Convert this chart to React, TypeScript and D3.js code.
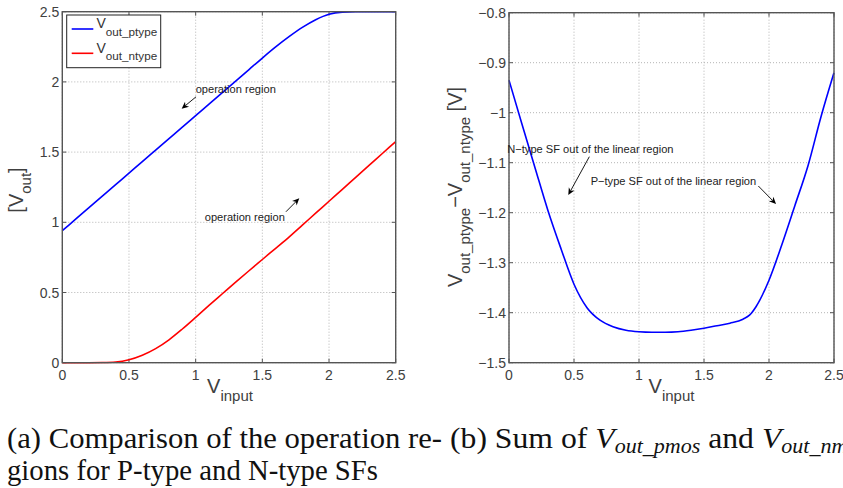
import React from "react";
import * as d3 from "d3";

// ---------- data ----------
const xInput = [0, 0.1, 0.2, 0.3, 0.4, 0.5, 0.6, 0.7, 0.8, 0.9, 1.0, 1.1, 1.2, 1.3, 1.4, 1.5, 1.6, 1.7, 1.8, 1.9, 2.0, 2.1, 2.2, 2.3, 2.4, 2.5];
const vOutPtype = [0.94, 1.022, 1.104, 1.186, 1.268, 1.35, 1.432, 1.514, 1.596, 1.678, 1.76, 1.842, 1.924, 2.006, 2.088, 2.17, 2.249, 2.322, 2.388, 2.443, 2.482, 2.497, 2.5, 2.5, 2.5, 2.5];
const vOutNtype = [0, 0, 0, 0.001, 0.005, 0.021, 0.053, 0.1, 0.163, 0.24, 0.323, 0.408, 0.491, 0.574, 0.655, 0.735, 0.815, 0.895, 0.98, 1.065, 1.15, 1.235, 1.32, 1.405, 1.49, 1.575];

const xDiff = [0, 0.1, 0.2, 0.3, 0.4, 0.5, 0.6, 0.7, 0.8, 0.9, 1.0, 1.1, 1.2, 1.3, 1.4, 1.5, 1.6, 1.7, 1.8, 1.85, 1.9, 2.0, 2.1, 2.2, 2.3, 2.4, 2.5];
const vDiff = [-0.935, -1.023, -1.11, -1.196, -1.272, -1.343, -1.39, -1.415, -1.428, -1.435, -1.438, -1.439, -1.439, -1.438, -1.435, -1.431, -1.426, -1.421, -1.413, -1.405, -1.388, -1.335, -1.263, -1.185, -1.106, -1.008, -0.92];

const xTicks = [0, 0.5, 1, 1.5, 2, 2.5];
const xTickLabels = ["0", "0.5", "1", "1.5", "2", "2.5"];
const yTicksLeft = [0, 0.5, 1, 1.5, 2, 2.5];
const yTickLabelsLeft = ["0", "0.5", "1", "1.5", "2", "2.5"];
const yTicksRight = [-1.5, -1.4, -1.3, -1.2, -1.1, -1.0, -0.9, -0.8];
const yTickLabelsRight = ["\u22121.5", "\u22121.4", "\u22121.3", "\u22121.2", "\u22121.1", "\u22121", "\u22120.9", "\u22120.8"];

const legendNames = ["out_ptype", "out_ntype"];
const legendColors = ["#0000ff", "#ff0000"];

const leftNotes = [
  { text: "operation region", tx: 1.0, ty: 1.92, from: [1.003, 1.894], to: [0.895, 1.809] },
  { text: "operation region", tx: 1.068, ty: 1.006, from: [1.677, 1.075], to: [1.777, 1.171] },
];
const rightNotes = [
  { text: "N\u2212type SF out of the linear region", tx: -0.013, ty: -1.0806, from: [0.618, -1.088], to: [0.456, -1.1646] },
  { text: "P\u2212type SF out of the linear region", tx: 0.628, ty: -1.1436, from: [1.918, -1.1466], to: [2.054, -1.1826] },
];

// ---------- layout ----------
const W = 843;
const H = 488;
const FONT = "'Liberation Sans', Arial, Helvetica, sans-serif";
const AXC = "#555555";
const TXC = "#404040";

const xL = d3.scaleLinear().domain([0, 2.5]).range([62.3, 395.7]);
const yL = d3.scaleLinear().domain([0, 2.5]).range([362.7, 11.7]);
const xR = d3.scaleLinear().domain([0, 2.5]).range([509, 834]);
const yR = d3.scaleLinear().domain([-1.5, -0.8]).range([362.7, 12.7]);

function Axes({ xs, ys, xt, xl, yt, yl }: any) {
  const [x0, x1] = xs.range();
  const [y0, y1] = ys.range();
  const tl = 4;
  return (
    <g fontFamily={FONT}>
      {xt.map((t: number, i: number) => (
        <line key={"gx" + i} x1={xs(t)} x2={xs(t)} y1={y0} y2={y1} stroke="#b4b4b4" strokeWidth={1} strokeDasharray="1,2" />
      ))}
      {yt.map((t: number, i: number) => (
        <line key={"gy" + i} x1={x0} x2={x1} y1={ys(t)} y2={ys(t)} stroke="#b4b4b4" strokeWidth={1} strokeDasharray="1,2" />
      ))}
      {xt.map((t: number, i: number) => (
        <g key={"tx" + i}>
          <line x1={xs(t)} x2={xs(t)} y1={y0} y2={y0 - tl} stroke={AXC} strokeWidth={1} />
          <line x1={xs(t)} x2={xs(t)} y1={y1} y2={y1 + tl} stroke={AXC} strokeWidth={1} />
          <text x={xs(t)} y={y0 + 17} textAnchor="middle" fontSize={14} fill={TXC}>{xl[i]}</text>
        </g>
      ))}
      {yt.map((t: number, i: number) => (
        <g key={"ty" + i}>
          <line x1={x0} x2={x0 + tl} y1={ys(t)} y2={ys(t)} stroke={AXC} strokeWidth={1} />
          <line x1={x1} x2={x1 - tl} y1={ys(t)} y2={ys(t)} stroke={AXC} strokeWidth={1} />
          <text x={x0 - 3} y={ys(t)} dy="0.36em" textAnchor="end" fontSize={14} fill={TXC}>{yl[i]}</text>
        </g>
      ))}
    </g>
  );
}

function Box({ xs, ys }: any) {
  const [x0, x1] = xs.range();
  const [y0, y1] = ys.range();
  return <rect x={x0} y={y1} width={x1 - x0} height={y0 - y1} fill="none" stroke={AXC} strokeWidth={1.4} />;
}

function Arrow({ from, to }: any) {
  const [ax, ay] = from;
  const [bx, by] = to;
  const dx = bx - ax;
  const dy = by - ay;
  const len = Math.hypot(dx, dy);
  const ux = dx / len;
  const uy = dy / len;
  const hl = 7;
  const hw = 3.2;
  const bxh = bx - ux * hl;
  const byh = by - uy * hl;
  const nx = -uy;
  const ny = ux;
  const notchX = bx - ux * hl * 0.7;
  const notchY = by - uy * hl * 0.7;
  const pts = [
    [bx, by],
    [bxh + nx * hw, byh + ny * hw],
    [notchX, notchY],
    [bxh - nx * hw, byh - ny * hw],
  ];
  return (
    <g>
      <line x1={ax} y1={ay} x2={notchX} y2={notchY} stroke="#000" strokeWidth={0.9} />
      <polygon points={pts.map((p) => p.join(",")).join(" ")} fill="#000" />
    </g>
  );
}

export default function App() {
  const lineP = d3
    .line<number>()
    .x((_, i) => xL(xInput[i]))
    .y((d) => yL(d))
    .curve(d3.curveMonotoneX);
  const lineD = d3
    .line<number>()
    .x((_, i) => xR(xDiff[i]))
    .y((d) => yR(d))
    .curve(d3.curveMonotoneX);

  const legY = [29, 53.3];

  return (
    <svg
      width={W}
      height={H}
      viewBox={`0 0 ${W} ${H}`}
      style={{ position: "absolute", left: 0, top: 0, background: "#fff", overflow: "hidden" }}
    >
      <rect x={0} y={0} width={W} height={H} fill="#fff" />

      {/* ---------- left panel ---------- */}
      <Axes xs={xL} ys={yL} xt={xTicks} xl={xTickLabels} yt={yTicksLeft} yl={yTickLabelsLeft} />
      <path d={lineP(vOutPtype) || ""} fill="none" stroke={legendColors[0]} strokeWidth={1.6} />
      <path d={lineP(vOutNtype) || ""} fill="none" stroke={legendColors[1]} strokeWidth={1.6} />
      <Box xs={xL} ys={yL} />

      {/* legend */}
      <rect x={66.7} y={15} width={94} height={52.7} fill="#fff" stroke="#222" strokeWidth={1} />
      {legendNames.map((n, i) => (
        <g key={n} fontFamily={FONT}>
          <line x1={71.7} x2={93.3} y1={legY[i]} y2={legY[i]} stroke={legendColors[i]} strokeWidth={1.6} />
          <text x={96.5} y={legY[i] - 0.7} fill="#333" fontSize={14}>
            V<tspan fontSize={11.7} dy={7.5}>{n}</tspan>
          </text>
        </g>
      ))}

      {leftNotes.map((a, i) => (
        <g key={"ln" + i}>
          <text x={xL(a.tx)} y={yL(a.ty)} fontFamily={FONT} fontSize={11.1} fill="#222">{a.text}</text>
          <Arrow from={[xL(a.from[0]), yL(a.from[1])]} to={[xL(a.to[0]), yL(a.to[1])]} />
        </g>
      ))}

      {/* left axis labels */}
      <text x={(xL(0) + xL(2.5)) / 2 + 1} y={393.3} textAnchor="middle" fontFamily={FONT} fill={TXC}>
        <tspan fontSize={20}>V</tspan>
        <tspan fontSize={15} dy={7.5}>input</tspan>
      </text>
      <text transform="translate(23,190) rotate(-90)" textAnchor="middle" fontFamily={FONT} fill={TXC}>
        <tspan fontSize={20}>[V</tspan>
        <tspan fontSize={15} dy={7.5}>out</tspan>
        <tspan fontSize={20} dy={-7.5}>]</tspan>
      </text>

      {/* ---------- right panel ---------- */}
      <Axes xs={xR} ys={yR} xt={xTicks} xl={xTickLabels} yt={yTicksRight} yl={yTickLabelsRight} />
      <path d={lineD(vDiff) || ""} fill="none" stroke="#0000ff" strokeWidth={1.6} />
      <Box xs={xR} ys={yR} />

      {rightNotes.map((a, i) => (
        <g key={"rn" + i}>
          <text x={xR(a.tx)} y={yR(a.ty)} fontFamily={FONT} fontSize={11.1} fill="#222">{a.text}</text>
          <Arrow from={[xR(a.from[0]), yR(a.from[1])]} to={[xR(a.to[0]), yR(a.to[1])]} />
        </g>
      ))}

      <text x={(xR(0) + xR(2.5)) / 2} y={393.3} textAnchor="middle" fontFamily={FONT} fill={TXC}>
        <tspan fontSize={20}>V</tspan>
        <tspan fontSize={15} dy={7.5}>input</tspan>
      </text>
      <text transform="translate(462,187) rotate(-90)" textAnchor="middle" fontFamily={FONT} fill={TXC}>
        <tspan fontSize={20}>V</tspan>
        <tspan fontSize={15} dy={8}>out_ptype</tspan>
        <tspan fontSize={20} dy={-8}>{"\u2212V"}</tspan>
        <tspan fontSize={15} dy={8}>out_ntype</tspan>
        <tspan fontSize={20} dy={-8}>{" [V]"}</tspan>
      </text>

      {/* ---------- captions ---------- */}
      <g fontFamily="'Liberation Serif', 'Times New Roman', serif" fill="#111">
        <text x={7} y={448} fontSize={29.5} textLength={435} lengthAdjust="spacingAndGlyphs">
          (a) Comparison of the operation re-
        </text>
        <text x={7} y={480} fontSize={29.5} textLength={371} lengthAdjust="spacingAndGlyphs">
          gions for P-type and N-type SFs
        </text>
        <g transform="translate(450,0) scale(1.075,1) translate(-450,0)">
          <text x={450} y={448} fontSize={29.5}>
            <tspan>(b) Sum of </tspan>
            <tspan fontStyle="italic">V</tspan>
            <tspan fontStyle="italic" fontSize={20.5} dy={5}>out_pmos</tspan>
            <tspan dy={-5}> and </tspan>
            <tspan fontStyle="italic">V</tspan>
            <tspan fontStyle="italic" fontSize={20.5} dy={5}>out_nmos</tspan>
          </text>
        </g>
      </g>
    </svg>
  );
}
